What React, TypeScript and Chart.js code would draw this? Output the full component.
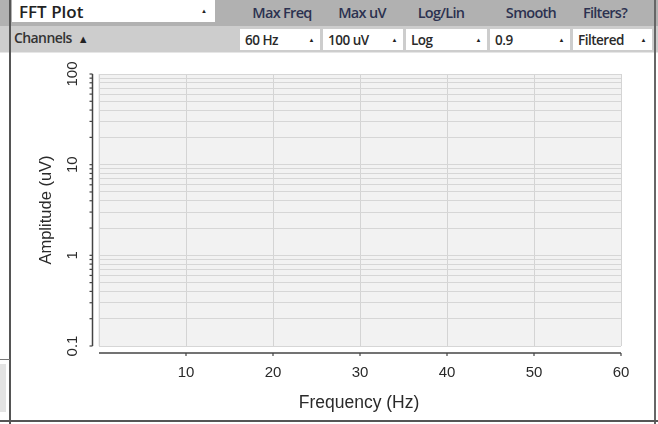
import React, { useEffect, useRef } from "react";
import { Chart, registerables } from "chart.js";

Chart.register(...registerables);

// ---- data (the reference plot shows no trace) ----
const fftFrequencies: number[] = [];
const fftAmplitudes: number[] = [];

const xMin = 0;
const xMax = 60;
const xTickValues = [10, 20, 30, 40, 50, 60];
const xGridValues = [0, 10, 20, 30, 40, 50, 60];

const yMin = 0.1;
const yMax = 100;
const yTickLabels = [0.1, 1, 10, 100];
const yGridValues = [
  0.1, 0.2, 0.3, 0.4, 0.5, 0.6, 0.7, 0.8, 0.9,
  1, 2, 3, 4, 5, 6, 7, 8, 9,
  10, 20, 30, 40, 50, 60, 70, 80, 90,
  100,
];

const xTitle = "Frequency (Hz)";
const yTitle = "Amplitude (uV)";

const widgetTitle = "FFT Plot";
const headerLabels = ["Max Freq", "Max uV", "Log/Lin", "Smooth", "Filters?"];
const dropdownValues = ["60 Hz", "100 uV", "Log", "0.9", "Filtered"];
const channelsLabel = "Channels";

const AXIS_FONT = "'Liberation Sans', Arial, sans-serif";
const UI_FONT = "'Open Sans', 'Noto Sans', sans-serif";

const fftAxesPlugin = {
  id: "fftAxes",
  beforeDraw(chart: any) {
    const { ctx, chartArea: a } = chart;
    ctx.save();
    ctx.fillStyle = "#f2f2f2";
    ctx.fillRect(a.left - 1, a.top, a.right - a.left + 1, a.bottom - a.top);
    ctx.restore();
  },
  afterDraw(chart: any) {
    const { ctx, chartArea: a, scales } = chart;
    const xs = scales.x;
    const ys = scales.y;
    ctx.save();
    ctx.strokeStyle = "#444444";
    ctx.lineWidth = 1.5;

    // y axis line (offset left of plot)
    const axX = a.left - 6.5;
    const yTop = ys.getPixelForValue(yMax);
    const yBot = ys.getPixelForValue(yMin);
    ctx.beginPath();
    ctx.moveTo(axX, yTop);
    ctx.lineTo(axX, yBot);
    ctx.stroke();
    ctx.lineWidth = 1.2;
    for (const v of yGridValues) {
      const y = ys.getPixelForValue(v);
      ctx.beginPath();
      ctx.moveTo(axX, y);
      ctx.lineTo(axX - 3, y);
      ctx.stroke();
    }

    // x axis line (offset below plot)
    const axY = a.bottom + 7;
    ctx.lineWidth = 1.5;
    ctx.beginPath();
    ctx.moveTo(xs.getPixelForValue(xMin), axY);
    ctx.lineTo(xs.getPixelForValue(xMax), axY);
    ctx.stroke();
    ctx.lineWidth = 1.2;
    for (const v of xTickValues) {
      const x = xs.getPixelForValue(v);
      ctx.beginPath();
      ctx.moveTo(x, axY);
      ctx.lineTo(x, axY + 3);
      ctx.stroke();
    }

    // tick labels
    ctx.fillStyle = "#2a2a2a";
    ctx.font = `15px ${AXIS_FONT}`;
    ctx.textAlign = "center";
    ctx.textBaseline = "middle";
    for (const v of xTickValues) {
      ctx.fillText(String(v), xs.getPixelForValue(v), axY + 20);
    }
    for (const v of yTickLabels) {
      const y = ys.getPixelForValue(v);
      ctx.save();
      ctx.translate(axX - 20, y);
      ctx.rotate(-Math.PI / 2);
      ctx.fillText(String(v), 0, 0);
      ctx.restore();
    }

    // titles
    ctx.fillStyle = "#2a2a2a";
    ctx.font = `17.5px ${AXIS_FONT}`;
    ctx.fillText(xTitle, (a.left + a.right) / 2 - 1, axY + 50);
    ctx.font = `16.5px ${AXIS_FONT}`;
    ctx.save();
    ctx.translate(46, (yTop + yBot) / 2);
    ctx.rotate(-Math.PI / 2);
    ctx.fillText(yTitle, 0, 0);
    ctx.restore();

    ctx.restore();
  },
};

function Arrow({ size = 7 }: { size?: number }) {
  return (
    <span style={{ fontSize: size, color: "#222", lineHeight: 1 }}>▲</span>
  );
}

export default function App() {
  const canvasRef = useRef<HTMLCanvasElement | null>(null);

  useEffect(() => {
    if (!canvasRef.current) return;
    const chart = new Chart(canvasRef.current, {
      type: "line",
      data: {
        datasets: [
          {
            label: "FFT",
            data: fftFrequencies.map((f, i) => ({ x: f, y: fftAmplitudes[i] })),
            borderColor: "#3366cc",
            pointRadius: 0,
          },
        ],
      },
      plugins: [fftAxesPlugin],
      options: {
        animation: false,
        responsive: false,
        devicePixelRatio: 1,
        layout: { padding: { left: 99, right: 37, top: 74, bottom: 78 } },
        plugins: {
          legend: { display: false },
          tooltip: { enabled: false },
          title: { display: false },
        },
        scales: {
          x: {
            type: "linear",
            min: xMin,
            max: xMax,
            afterBuildTicks: (s: any) => {
              s.ticks = xGridValues.map((v) => ({ value: v }));
            },
            ticks: { display: false },
            grid: { color: "#d4d4d4", lineWidth: 1, drawTicks: false },
            border: { display: false },
            title: { display: false },
          },
          y: {
            type: "logarithmic",
            min: yMin,
            max: yMax,
            afterBuildTicks: (s: any) => {
              s.ticks = yGridValues.map((v) => ({ value: v }));
            },
            ticks: { display: false },
            grid: { color: "#d6d6d6", lineWidth: 1, drawTicks: false },
            border: { display: false },
            title: { display: false },
          },
        },
      },
    } as any);
    return () => chart.destroy();
  }, []);

  const labelCenters = [282, 362, 441, 531, 605];
  const boxes = [
    [240, 320],
    [323, 403],
    [406, 487],
    [490, 570],
    [573, 652],
  ];

  return (
    <div
      style={{
        position: "relative",
        width: 658,
        height: 424,
        overflow: "hidden",
        background: "#ffffff",
        fontFamily: UI_FONT,
      }}
    >
      <style>{"body{margin:0}"}</style>
      <canvas
        ref={canvasRef}
        width={658}
        height={424}
        style={{ position: "absolute", left: 0, top: 0, width: 658, height: 424 }}
      />
      {/* header row 1 */}
      <div
        style={{
          position: "absolute",
          left: 0,
          top: 0,
          width: 658,
          height: 26,
          background: "#b1b1b1",
        }}
      />
      {/* header row 2 */}
      <div
        style={{
          position: "absolute",
          left: 0,
          top: 26,
          width: 658,
          height: 26,
          background: "#cdcdcd",
          borderBottom: "1px solid #e6e6e6",
        }}
      />
      {/* widget title dropdown */}
      <div
        style={{
          position: "absolute",
          left: 12,
          top: 0,
          width: 203,
          height: 22,
          background: "#ffffff",
          display: "flex",
          alignItems: "center",
          justifyContent: "space-between",
          boxSizing: "border-box",
          padding: "0 8px 0 7px",
          fontSize: 17,
          fontWeight: 600,
          color: "#222",
        }}
      >
        <span>{widgetTitle}</span>
        <Arrow size={6} />
      </div>
      {headerLabels.map((t, i) => (
        <div
          key={t}
          style={{
            position: "absolute",
            left: labelCenters[i] - 45,
            width: 90,
            top: 3,
            textAlign: "center",
            fontSize: 14.5,
            fontWeight: 600,
            letterSpacing: -0.7,
            color: "#2c3150",
            lineHeight: "20px",
          }}
        >
          {t}
        </div>
      ))}
      <div
        style={{
          position: "absolute",
          left: 14,
          top: 29,
          fontSize: 14,
          fontWeight: 600,
          color: "#333",
          letterSpacing: -0.6,
          lineHeight: "18px",
          display: "flex",
          alignItems: "center",
          gap: 6,
        }}
      >
        <span>{channelsLabel}</span>
        <Arrow size={11} />
      </div>
      {dropdownValues.map((t, i) => (
        <div
          key={t}
          style={{
            position: "absolute",
            left: boxes[i][0],
            top: 29,
            width: boxes[i][1] - boxes[i][0],
            height: 21,
            background: "#ffffff",
            boxSizing: "border-box",
            padding: "0 6px 0 5px",
            display: "flex",
            alignItems: "center",
            justifyContent: "space-between",
            fontSize: 13.5,
            fontWeight: 600,
            color: "#2a2a2a",
            letterSpacing: -0.5,
          }}
        >
          <span>{t}</span>
          <Arrow size={6} />
        </div>
      ))}
      {/* frame lines */}
      <div style={{ position: "absolute", left: 9, top: 0, width: 2, height: 424, background: "#555" }} />
      <div style={{ position: "absolute", left: 654, top: 0, width: 2, height: 424, background: "#666" }} />
      <div style={{ position: "absolute", left: 0, top: 420, width: 658, height: 2, background: "#555" }} />
      <div style={{ position: "absolute", left: 0, top: 359, width: 10, height: 1, background: "#777" }} />
      <div style={{ position: "absolute", left: 0, top: 364, width: 6, height: 48, background: "#e4e4e4" }} />
    </div>
  );
}
